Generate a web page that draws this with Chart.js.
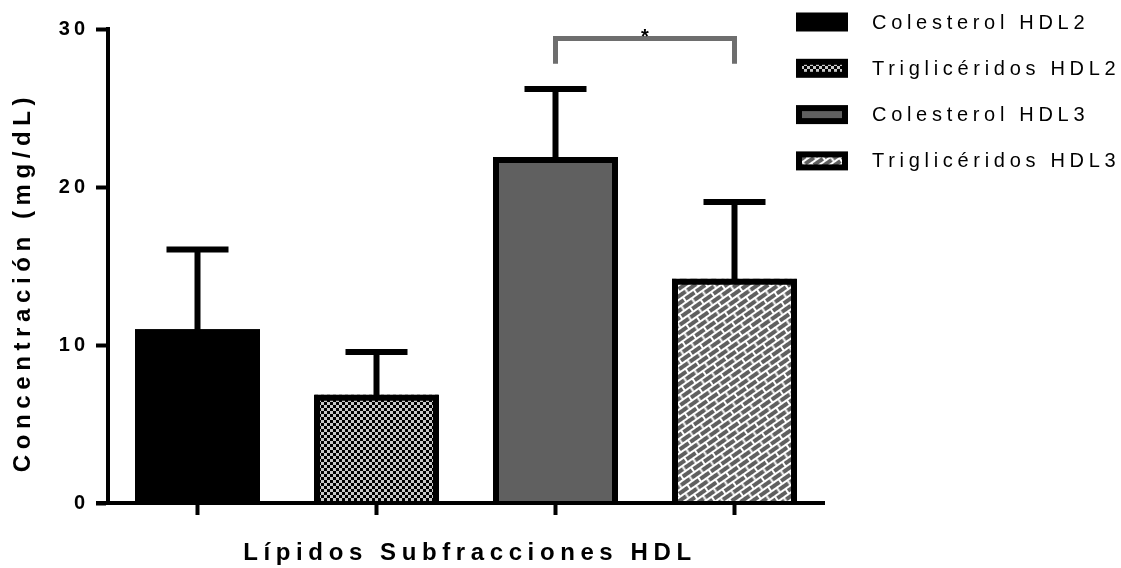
<!DOCTYPE html>
<html>
<head>
<meta charset="utf-8">
<script src="https://cdn.jsdelivr.net/npm/chart.js@4.4.1/dist/chart.umd.min.js"></script>
<style>
  html, body { margin: 0; padding: 0; background: #ffffff; }
  #wrap { width: 1121px; height: 568px; position: relative; }
</style>
</head>
<body>
<div id="wrap"><canvas id="c"></canvas></div>
<script>
// ---- data ----
const categories = ['Colesterol HDL2', 'Triglicéridos HDL2', 'Colesterol HDL3', 'Triglicéridos HDL3'];
const means = [11.0, 6.85, 21.9, 14.2];
const errUpper = [5.05, 2.7, 4.3, 4.85];
const yTicks = [0, 10, 20, 30];
const sigPair = [2, 3];
const sigLabel = '*';
const yTitle = 'Concentración (mg/dL)';
const xTitle = 'Lípidos Subfracciones HDL';

// ---- patterns ----
function checkerPattern() {
  const c = document.createElement('canvas');
  c.width = 6; c.height = 6;
  const g = c.getContext('2d');
  g.fillStyle = '#c8c8c8'; g.fillRect(0, 0, 6, 6);
  g.fillStyle = '#000000';
  g.fillRect(0, 0, 3, 3); g.fillRect(3, 3, 3, 3);
  const ctx = document.createElement('canvas').getContext('2d');
  return ctx.createPattern(c, 'repeat');
}
function brickPattern() {
  const w = 13, h = 12;
  const c = document.createElement('canvas');
  c.width = w; c.height = h;
  const g = c.getContext('2d');
  g.fillStyle = '#ffffff'; g.fillRect(0, 0, w, h);
  g.fillStyle = '#606060';
  g.fillRect(0, 0, 11, 4);
  g.fillRect(6.5, 6, 11, 4);
  g.fillRect(6.5 - 13, 6, 11, 4);
  const ctx = document.createElement('canvas').getContext('2d');
  const p = ctx.createPattern(c, 'repeat');
  if (p.setTransform) p.setTransform(new DOMMatrix().rotateSelf(-35));
  return p;
}
const fills = ['#000000', checkerPattern(), '#606060', brickPattern()];

const FONT = '"Liberation Sans", Arial, Helvetica, sans-serif';
const BORDER = 6;

const drawPlugin = {
  id: 'extras',
  beforeDraw(chart) {
    chart.ctx.letterSpacing = '4px';
  },
  afterDatasetsDraw(chart) {
    const ctx = chart.ctx;
    const x = chart.scales.x, y = chart.scales.y;
    const meta = chart.getDatasetMeta(0);
    ctx.save();
    ctx.letterSpacing = '0px';
    // bar outlines (left, top, right), inset
    ctx.strokeStyle = '#000';
    ctx.lineWidth = BORDER;
    ctx.lineJoin = 'miter';
    meta.data.forEach((bar) => {
      const p = bar.getProps(['x', 'y', 'base', 'width'], true);
      const l = p.x - p.width / 2 + BORDER / 2;
      const r = p.x + p.width / 2 - BORDER / 2;
      const t = p.y + BORDER / 2;
      ctx.beginPath();
      ctx.moveTo(l, p.base);
      ctx.lineTo(l, t);
      ctx.lineTo(r, t);
      ctx.lineTo(r, p.base);
      ctx.stroke();
    });
    // error bars (upper only)
    ctx.lineCap = 'butt';
    means.forEach((m, i) => {
      const cx = x.getPixelForValue(i);
      const y0 = y.getPixelForValue(m);
      const y1 = y.getPixelForValue(m + errUpper[i]);
      ctx.beginPath();
      ctx.moveTo(cx, y0 + 3);
      ctx.lineTo(cx, y1);
      ctx.stroke();
      ctx.beginPath();
      ctx.moveTo(cx - 31, y1);
      ctx.lineTo(cx + 31, y1);
      ctx.stroke();
    });
    ctx.restore();
  },
  afterDraw(chart) {
    const ctx = chart.ctx;
    const x = chart.scales.x, y = chart.scales.y;
    const area = chart.chartArea;
    ctx.save();
    // x axis line
    ctx.strokeStyle = '#000';
    ctx.lineWidth = 4;
    const y0 = y.getPixelForValue(0);
    ctx.beginPath();
    ctx.moveTo(area.left - 12, y0);
    ctx.lineTo(area.right + 1, y0);
    ctx.stroke();
    // x tick marks
    categories.forEach((c, i) => {
      const cx = x.getPixelForValue(i);
      ctx.beginPath();
      ctx.moveTo(cx, y0);
      ctx.lineTo(cx, y0 + 12);
      ctx.stroke();
    });
    // significance bracket
    const xa = x.getPixelForValue(sigPair[0]);
    const xb = x.getPixelForValue(sigPair[1]);
    const yt = y.getPixelForValue(29.4);
    const yb = y.getPixelForValue(27.8);
    ctx.strokeStyle = '#6e6e6e';
    ctx.lineWidth = 5;
    ctx.lineJoin = 'miter';
    ctx.beginPath();
    ctx.moveTo(xa, yb);
    ctx.lineTo(xa, yt);
    ctx.lineTo(xb, yt);
    ctx.lineTo(xb, yb);
    ctx.stroke();
    ctx.letterSpacing = '0px';
    ctx.fillStyle = '#000';
    ctx.font = 'bold 20px ' + FONT;
    ctx.textAlign = 'center';
    ctx.textBaseline = 'alphabetic';
    ctx.fillText(sigLabel, (xa + xb) / 2, yt + 5);

    // axis titles
    ctx.font = 'bold 24px ' + FONT;
    ctx.letterSpacing = '5.6px';
    ctx.textAlign = 'center';
    ctx.textBaseline = 'middle';
    ctx.fillText(xTitle, 470, 553);
    ctx.save();
    ctx.translate(23, 282);
    ctx.rotate(-Math.PI / 2);
    ctx.fillText(yTitle, 0, 0);
    ctx.restore();

    // legend
    ctx.font = '20px ' + FONT;
    ctx.letterSpacing = '4.7px';
    ctx.textAlign = 'left';
    ctx.textBaseline = 'middle';
    const lx = 796, ly = 22, step = 46.3, bw = 52, bh = 19, b = 6;
    categories.forEach((c, i) => {
      const cy = ly + i * step;
      ctx.fillStyle = '#000';
      ctx.fillRect(lx, cy - bh / 2, bw, bh);
      if (i > 0) {
        ctx.fillStyle = fills[i];
        ctx.fillRect(lx + b, cy - bh / 2 + b, bw - 2 * b, bh - 2 * b);
      }
      ctx.fillStyle = '#000';
      ctx.fillText(c, 872, cy + 1);
    });
    ctx.restore();
  }
};

new Chart(document.getElementById('c'), {
  type: 'bar',
  data: {
    labels: categories,
    datasets: [{
      label: 'Concentración',
      data: means,
      backgroundColor: fills,
      borderWidth: 0,
      inflateAmount: 0,
      categoryPercentage: 1.0,
      barPercentage: 125 / 179
    }]
  },
  options: {
    responsive: true,
    maintainAspectRatio: false,
    animation: false,
    devicePixelRatio: 1,
    layout: { padding: { top: 29, right: 297, bottom: 0, left: 0 } },
    plugins: { legend: { display: false }, tooltip: { enabled: false } },
    scales: {
      x: {
        grid: { display: false },
        border: { display: false },
        ticks: { display: false },
        afterFit(s) { s.height = 65; }
      },
      y: {
        min: 0, max: 30,
        afterBuildTicks(s) { s.ticks = yTicks.map(v => ({ value: v })); },
        afterFit(s) { s.width = 108; },
        grid: { drawOnChartArea: false, drawTicks: true, tickLength: 12, tickWidth: 4, tickColor: '#000' },
        border: { display: true, width: 4, color: '#000' },
        ticks: { color: '#000', padding: 7, font: { family: FONT, size: 20, weight: 'bold' } }
      }
    }
  },
  plugins: [drawPlugin]
});
</script>
</body>
</html>
